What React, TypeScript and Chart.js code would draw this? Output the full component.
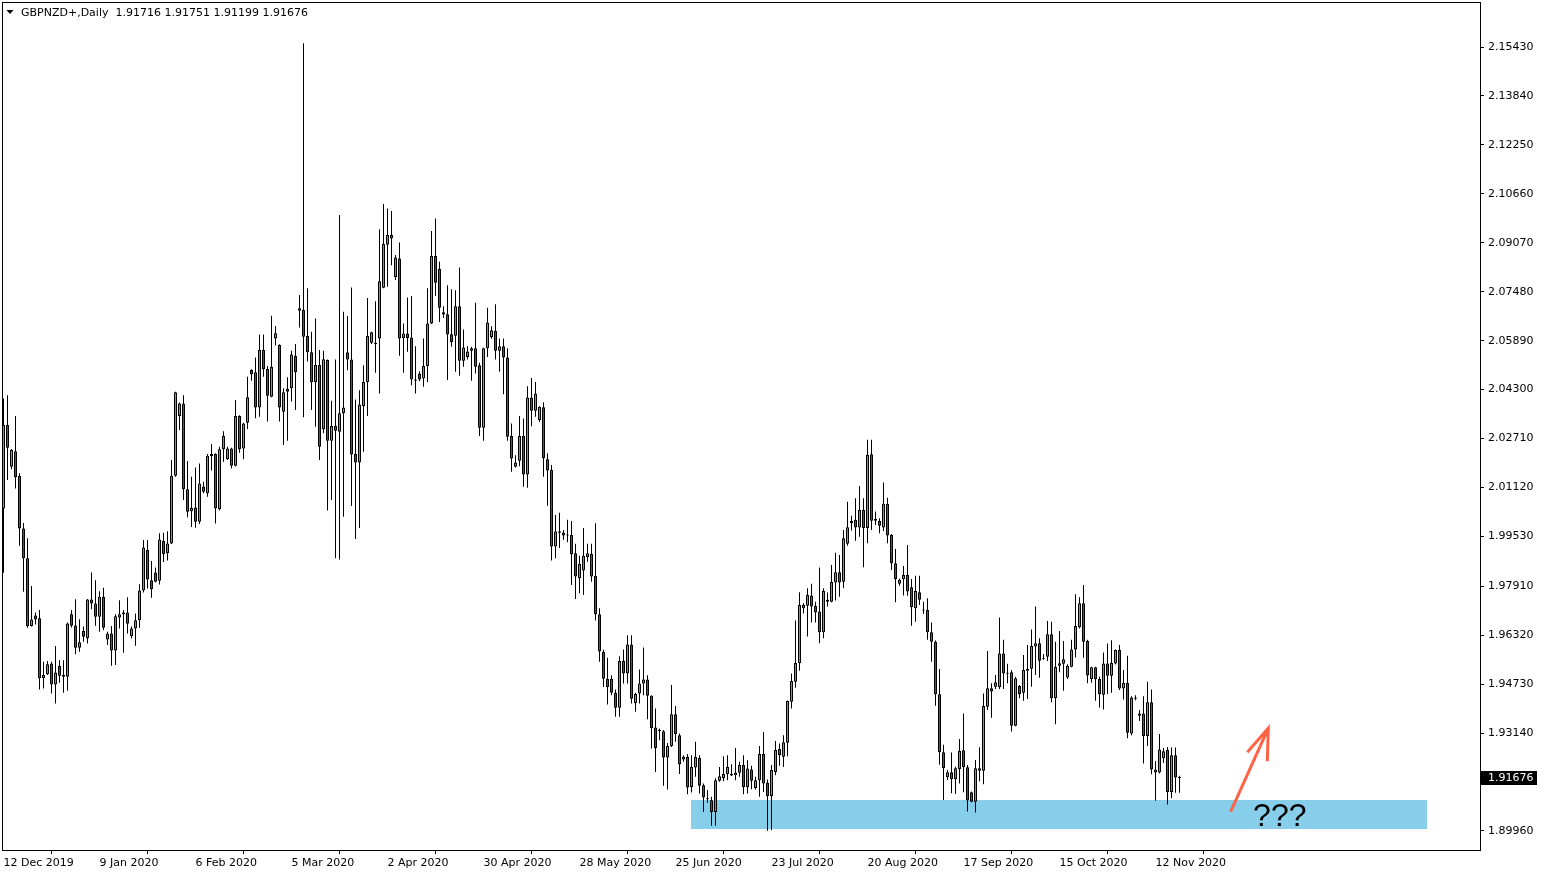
import React, { useEffect, useRef } from 'react';
import { Chart, registerables } from 'chart.js';

Chart.register(...registerables);

const symbolTitle = 'GBPNZD+,Daily';

const dateLabels = [
  '12 Dec 2019', '9 Jan 2020', '6 Feb 2020', '5 Mar 2020', '2 Apr 2020', '30 Apr 2020',
  '28 May 2020', '25 Jun 2020', '23 Jul 2020', '20 Aug 2020', '17 Sep 2020', '15 Oct 2020', '12 Nov 2020',
];
const dateLabelBars = [0, 24, 48, 72, 96, 120, 144, 168, 192, 216, 240, 264, 288];

const priceTicks = [
  2.1543, 2.1384, 2.1225, 2.1066, 2.0907, 2.0748, 2.0589, 2.043, 2.0271, 2.0112,
  1.9953, 1.9791, 1.9632, 1.9473, 1.9314, 1.9155, 1.8996,
];

const opens = [
  2.0044, 2.0315, 2.0179, 2.0230, 2.0149, 1.9979, 1.9882, 1.9662, 1.9696, 1.9687,
  1.9492, 1.9505, 1.9540, 1.9472, 1.9532, 1.9503, 1.9497, 1.9700, 1.9664, 1.9591,
  1.9646, 1.9622, 1.9748, 1.9735, 1.9692, 1.9757, 1.9618, 1.9638, 1.9582, 1.9690,
  1.9700, 1.9706, 1.9629, 1.9654, 1.9681, 1.9777, 1.9909, 1.9811, 1.9836, 1.9809,
  1.9938, 1.9898, 1.9930, 2.0150, 2.0344, 2.0385, 2.0106, 2.0035, 2.0047, 2.0001,
  2.0115, 2.0093, 2.0214, 2.0221, 2.0041, 2.0236, 2.0204, 2.0239, 2.0183, 2.0344,
  2.0239, 2.0322, 2.0494, 2.0486, 2.0372, 2.0559, 2.0497, 2.0407, 2.0596, 2.0575,
  2.0358, 2.0432, 2.0434, 2.0539, 2.0694, 2.0689, 2.0604, 2.0551, 2.0454, 2.0510,
  2.0301, 2.0526, 2.0264, 2.0312, 2.0293, 2.0353, 2.0551, 2.0528, 2.0222, 2.0193,
  2.0377, 2.0455, 2.0582, 2.0582, 2.0596, 2.0761, 2.0901, 2.0932, 2.0796, 2.0856,
  2.0598, 2.0612, 2.0599, 2.0463, 2.0482, 2.0466, 2.0507, 2.0645, 2.0864, 2.0823,
  2.0681, 2.0675, 2.0610, 2.0605, 2.0701, 2.0524, 2.0536, 2.0556, 2.0564, 2.0509,
  2.0306, 2.0564, 2.0601, 2.0620, 2.0556, 2.0571, 2.0534, 2.0279, 2.0179, 2.0199,
  2.0279, 2.0154, 2.0404, 2.0361, 2.0331, 2.0373, 2.0204, 2.0169, 1.9920, 1.9965,
  1.9966, 1.9958, 1.9958, 1.9898, 1.9817, 1.9842, 1.9885, 1.9896, 1.9825, 1.9700,
  1.9578, 1.9491, 1.9491, 1.9445, 1.9396, 1.9548, 1.9508, 1.9602, 1.9412, 1.9443,
  1.9475, 1.9488, 1.9435, 1.9332, 1.9324, 1.9320, 1.9235, 1.9272, 1.9375, 1.9307,
  1.9228, 1.9237, 1.9139, 1.9202, 1.9233, 1.9145, 1.9102, 1.9096, 1.9058, 1.9159,
  1.9167, 1.9181, 1.9181, 1.9177, 1.9185, 1.9210, 1.9139, 1.9196, 1.9136, 1.9161,
  1.9246, 1.9153, 1.9110, 1.9188, 1.9262, 1.9237, 1.9283, 1.9416, 1.9481, 1.9541,
  1.9720, 1.9728, 1.9761, 1.9727, 1.9709, 1.9642, 1.9741, 1.9741, 1.9803, 1.9837,
  1.9806, 1.9929, 1.9996, 2.0007, 1.9982, 2.0039, 1.9980, 2.0220, 2.0004, 2.0003,
  1.9982, 2.0059, 1.9958, 1.9866, 1.9799, 1.9814, 1.9828, 1.9788, 1.9720, 1.9772,
  1.9714, 1.9714, 1.9642, 1.9611, 1.9440, 1.9252, 1.9171, 1.9187, 1.9164, 1.9197,
  1.9258, 1.9203, 1.9122, 1.9091, 1.9192, 1.9192, 1.9400, 1.9460, 1.9465, 1.9463,
  1.9573, 1.9510, 1.9512, 1.9338, 1.9467, 1.9445, 1.9517, 1.9523, 1.9595, 1.9606,
  1.9557, 1.9562, 1.9635, 1.9427, 1.9533, 1.9539, 1.9495, 1.9530, 1.9586, 1.9658,
  1.9736, 1.9613, 1.9490, 1.9528, 1.9490, 1.9439, 1.9540, 1.9500, 1.9540, 1.9584,
  1.9459, 1.9477, 1.9313, 1.9426, 1.9370, 1.9378, 1.9305, 1.9414, 1.9196, 1.9186,
  1.9232, 1.9259, 1.9123, 1.9242, 1.91716,
];

const highs = [
  2.0401, 2.0412, 2.0237, 2.0344, 2.0158, 1.9997, 1.9947, 1.9792, 1.9706, 1.9714,
  1.9546, 1.9548, 1.9546, 1.9597, 1.9551, 1.9551, 1.9673, 1.9714, 1.9749, 1.9684,
  1.9660, 1.9750, 1.9836, 1.9811, 1.9775, 1.9786, 1.9643, 1.9662, 1.9700, 1.9746,
  1.9714, 1.9755, 1.9660, 1.9703, 1.9798, 1.9941, 1.9941, 1.9873, 1.9852, 1.9963,
  1.9965, 1.9970, 2.0201, 2.0423, 2.0388, 2.0412, 2.0198, 2.0147, 2.0177, 2.0190,
  2.0131, 2.0221, 2.0253, 2.0223, 2.0244, 2.0295, 2.0244, 2.0241, 2.0396, 2.0347,
  2.0322, 2.0472, 2.0496, 2.0534, 2.0609, 2.0609, 2.0507, 2.0670, 2.0637, 2.0577,
  2.0434, 2.0470, 2.0556, 2.0578, 2.0737, 2.1555, 2.0759, 2.0618, 2.0661, 2.0559,
  2.0556, 2.0528, 2.0394, 2.0528, 2.0997, 2.0683, 2.0669, 2.0762, 2.0398, 2.0428,
  2.0509, 2.0728, 2.0618, 2.0717, 2.0951, 2.1033, 2.1018, 2.1010, 2.0867, 2.0908,
  2.0645, 2.0729, 2.0734, 2.0571, 2.0490, 2.0596, 2.0759, 2.0945, 2.0986, 2.0845,
  2.0701, 2.0769, 2.0756, 2.0753, 2.0827, 2.0625, 2.0571, 2.0569, 2.0712, 2.0517,
  2.0566, 2.0696, 2.0636, 2.0707, 2.0596, 2.0596, 2.0564, 2.0320, 2.0217, 2.0344,
  2.0336, 2.0441, 2.0468, 2.0455, 2.0376, 2.0389, 2.0223, 2.0185, 2.0023, 2.0030,
  1.9974, 2.0007, 2.0003, 1.9929, 1.9890, 1.9980, 1.9929, 1.9929, 1.9996, 1.9720,
  1.9585, 1.9559, 1.9502, 1.9456, 1.9564, 1.9586, 1.9632, 1.9632, 1.9445, 1.9521,
  1.9592, 1.9502, 1.9437, 1.9394, 1.9329, 1.9324, 1.9282, 1.9470, 1.9402, 1.9313,
  1.9242, 1.9246, 1.9242, 1.9286, 1.9242, 1.9150, 1.9129, 1.9107, 1.9167, 1.9204,
  1.9239, 1.9242, 1.9213, 1.9266, 1.9221, 1.9242, 1.9226, 1.9208, 1.9172, 1.9272,
  1.9318, 1.9163, 1.9210, 1.9288, 1.9280, 1.9307, 1.9420, 1.9508, 1.9680, 1.9772,
  1.9736, 1.9785, 1.9799, 1.9741, 1.9852, 1.9785, 1.9771, 1.9860, 1.9900, 1.9893,
  1.9974, 2.0066, 2.0020, 2.0077, 2.0117, 2.0077, 2.0267, 2.0267, 2.0034, 2.0012,
  2.0128, 2.0079, 1.9961, 1.9912, 1.9816, 1.9857, 1.9925, 1.9815, 1.9825, 1.9825,
  1.9741, 1.9752, 1.9673, 1.9615, 1.9522, 1.9276, 1.9194, 1.9251, 1.9205, 1.9295,
  1.9378, 1.9210, 1.9124, 1.9227, 1.9268, 1.9443, 1.9581, 1.9476, 1.9503, 1.9690,
  1.9617, 1.9539, 1.9519, 1.9497, 1.9470, 1.9568, 1.9600, 1.9651, 1.9725, 1.9622,
  1.9571, 1.9678, 1.9676, 1.9611, 1.9646, 1.9613, 1.9538, 1.9617, 1.9765, 1.9755,
  1.9795, 1.9617, 1.9530, 1.9530, 1.9497, 1.9576, 1.9605, 1.9616, 1.9586, 1.9600,
  1.9519, 1.9565, 1.9434, 1.9437, 1.9389, 1.9434, 1.9481, 1.9456, 1.9223, 1.9311,
  1.9266, 1.9269, 1.9267, 1.9267, 1.91751,
];

const lows = [
  1.9835, 2.0136, 2.0171, 2.0109, 1.9923, 1.9773, 1.9656, 1.9660, 1.9667, 1.9456,
  1.9459, 1.9503, 1.9443, 1.9410, 1.9478, 1.9445, 1.9452, 1.9657, 1.9570, 1.9578,
  1.9611, 1.9605, 1.9716, 1.9663, 1.9643, 1.9649, 1.9600, 1.9533, 1.9535, 1.9654,
  1.9575, 1.9638, 1.9621, 1.9598, 1.9656, 1.9771, 1.9784, 1.9754, 1.9804, 1.9797,
  1.9870, 1.9875, 1.9928, 2.0147, 2.0299, 2.0071, 2.0015, 1.9984, 1.9981, 1.9993,
  2.0093, 2.0082, 2.0167, 1.9995, 2.0037, 2.0196, 2.0201, 2.0174, 2.0180, 2.0225,
  2.0204, 2.0302, 2.0459, 2.0337, 2.0342, 2.0472, 2.0326, 2.0405, 2.0573, 2.0326,
  2.0250, 2.0264, 2.0391, 2.0364, 2.0632, 2.0340, 2.0521, 2.0364, 2.0309, 2.0201,
  2.0288, 2.0037, 2.0071, 1.9882, 1.9878, 2.0017, 2.0493, 2.0052, 1.9945, 1.9980,
  2.0228, 2.0344, 2.0578, 2.0485, 2.0417, 2.0759, 2.0764, 2.0834, 2.0786, 2.0540,
  2.0485, 2.0553, 2.0444, 2.0417, 2.0457, 2.0439, 2.0455, 2.0643, 2.0734, 2.0650,
  2.0663, 2.0461, 2.0569, 2.0488, 2.0475, 2.0504, 2.0528, 2.0459, 2.0482, 2.0279,
  2.0264, 2.0536, 2.0595, 2.0528, 2.0488, 2.0415, 2.0264, 2.0163, 2.0177, 2.0181,
  2.0114, 2.0111, 2.0311, 2.0342, 2.0325, 2.0147, 2.0053, 1.9875, 1.9882, 1.9915,
  1.9942, 1.9934, 1.9795, 1.9750, 1.9768, 1.9763, 1.9871, 1.9806, 1.9680, 1.9546,
  1.9464, 1.9407, 1.9437, 1.9367, 1.9367, 1.9475, 1.9475, 1.9410, 1.9383, 1.9410,
  1.9437, 1.9359, 1.9264, 1.9188, 1.9291, 1.9143, 1.9131, 1.9269, 1.9286, 1.9181,
  1.9221, 1.9115, 1.9121, 1.9172, 1.9118, 1.9058, 1.9088, 1.9013, 1.9013, 1.9156,
  1.9158, 1.9161, 1.9175, 1.9161, 1.9172, 1.9115, 1.9118, 1.9132, 1.9131, 1.9107,
  1.9123, 1.8997, 1.8999, 1.9177, 1.9208, 1.9204, 1.9239, 1.9394, 1.9461, 1.9517,
  1.9703, 1.9628, 1.9673, 1.9673, 1.9606, 1.9622, 1.9725, 1.9739, 1.9745, 1.9757,
  1.9785, 1.9923, 1.9972, 1.9939, 1.9952, 1.9853, 1.9931, 1.9974, 1.9990, 1.9963,
  1.9971, 1.9931, 1.9844, 1.9739, 1.9793, 1.9761, 1.9760, 1.9663, 1.9676, 1.9730,
  1.9701, 1.9617, 1.9546, 1.9403, 1.9211, 1.9097, 1.9162, 1.9119, 1.9116, 1.9150,
  1.9122, 1.9059, 1.9089, 1.9056, 1.9158, 1.9148, 1.9389, 1.9364, 1.9457, 1.9457,
  1.9457, 1.9476, 1.9319, 1.9336, 1.9427, 1.9419, 1.9425, 1.9465, 1.9503, 1.9494,
  1.9552, 1.9548, 1.9414, 1.9343, 1.9512, 1.9452, 1.9490, 1.9528, 1.9560, 1.9654,
  1.9559, 1.9476, 1.9478, 1.9419, 1.9397, 1.9391, 1.9441, 1.9445, 1.9537, 1.9454,
  1.9423, 1.9297, 1.9307, 1.9421, 1.9353, 1.9215, 1.9272, 1.9180, 1.9094, 1.9183,
  1.9217, 1.9082, 1.9102, 1.9120, 1.91199,
];

const closes = [
  2.0315, 2.0241, 2.0234, 2.0145, 1.9979, 1.9882, 1.9662, 1.9683, 1.9683, 1.9492,
  1.9503, 1.9538, 1.9472, 1.9511, 1.9500, 1.9497, 1.9670, 1.9663, 1.9591, 1.9609,
  1.9627, 1.9748, 1.9735, 1.9692, 1.9757, 1.9656, 1.9638, 1.9582, 1.9694, 1.9700,
  1.9706, 1.9669, 1.9654, 1.9681, 1.9777, 1.9917, 1.9813, 1.9781, 1.9806, 1.9943,
  1.9895, 1.9930, 2.0150, 2.0421, 2.0385, 2.0106, 2.0033, 2.0045, 2.0001, 2.0125,
  2.0098, 2.0215, 2.0221, 2.0044, 2.0236, 2.0279, 2.0239, 2.0183, 2.0344, 2.0236,
  2.0320, 2.0405, 2.0480, 2.0372, 2.0559, 2.0496, 2.0410, 2.0504, 2.0613, 2.0372,
  2.0421, 2.0423, 2.0544, 2.0486, 2.0686, 2.0602, 2.0551, 2.0454, 2.0510, 2.0244,
  2.0529, 2.0264, 2.0312, 2.0296, 2.0353, 2.0372, 2.0528, 2.0219, 2.0193, 2.0382,
  2.0455, 2.0604, 2.0616, 2.0577, 2.0782, 2.0903, 2.0932, 2.0921, 2.0859, 2.0596,
  2.0612, 2.0598, 2.0463, 2.0459, 2.0463, 2.0507, 2.0645, 2.0864, 2.0777, 2.0696,
  2.0674, 2.0609, 2.0585, 2.0701, 2.0524, 2.0567, 2.0554, 2.0564, 2.0504, 2.0306,
  2.0564, 2.0648, 2.0623, 2.0556, 2.0571, 2.0534, 2.0277, 2.0206, 2.0193, 2.0279,
  2.0154, 2.0404, 2.0361, 2.0417, 2.0374, 2.0207, 2.0167, 1.9920, 1.9969, 1.9970,
  1.9956, 1.9956, 1.9895, 1.9823, 1.9864, 1.9890, 1.9898, 1.9823, 1.9700, 1.9579,
  1.9491, 1.9464, 1.9445, 1.9396, 1.9548, 1.9508, 1.9602, 1.9426, 1.9441, 1.9475,
  1.9488, 1.9435, 1.9331, 1.9266, 1.9320, 1.9235, 1.9272, 1.9375, 1.9310, 1.9212,
  1.9237, 1.9137, 1.9204, 1.9237, 1.9143, 1.9105, 1.9099, 1.9058, 1.9161, 1.9174,
  1.9181, 1.9204, 1.9176, 1.9186, 1.9210, 1.9139, 1.9199, 1.9159, 1.9161, 1.9246,
  1.9150, 1.9110, 1.9194, 1.9259, 1.9242, 1.9284, 1.9418, 1.9483, 1.9542, 1.9730,
  1.9730, 1.9763, 1.9725, 1.9706, 1.9642, 1.9776, 1.9747, 1.9805, 1.9837, 1.9803,
  1.9947, 1.9983, 2.0003, 1.9982, 2.0039, 1.9980, 2.0218, 2.0004, 2.0010, 1.9988,
  2.0059, 1.9956, 1.9866, 1.9814, 1.9812, 1.9828, 1.9774, 1.9723, 1.9776, 1.9747,
  1.9712, 1.9642, 1.9611, 1.9440, 1.9252, 1.9200, 1.9187, 1.9164, 1.9200, 1.9257,
  1.9203, 1.9095, 1.9091, 1.9200, 1.9200, 1.9402, 1.9460, 1.9449, 1.9479, 1.9573,
  1.9508, 1.9507, 1.9338, 1.9492, 1.9441, 1.9519, 1.9523, 1.9597, 1.9606, 1.9549,
  1.9554, 1.9635, 1.9427, 1.9530, 1.9541, 1.9554, 1.9532, 1.9586, 1.9662, 1.9736,
  1.9611, 1.9501, 1.9528, 1.9489, 1.9440, 1.9540, 1.9500, 1.9542, 1.9584, 1.9459,
  1.9477, 1.9315, 1.9430, 1.9430, 1.9378, 1.9305, 1.9414, 1.9196, 1.9186, 1.9261,
  1.9255, 1.9123, 1.9242, 1.9170, 1.91676,
];

// Support zone (bar index range and price range), arrow and annotation
const zoneFromBar = 171.9;
const zoneToBar = 355.9;
const zoneHigh = 1.9097;
const zoneLow = 1.9002;
const arrowFrom = { bar: 306.8, price: 1.9059 };
const arrowTo = { bar: 316.2, price: 1.9330 };
const questionText = '???';
const questionAt = { bar: 312.4, price: 1.9012 };

const BULL = '#20D820';
const BEAR = '#D82020';
const FONT = "'DejaVu Sans', sans-serif";

export default function App() {
  const canvasRef = useRef<HTMLCanvasElement | null>(null);

  useEffect(() => {
    document.body.style.margin = '0';
    document.body.style.overflow = 'hidden';
    const canvas = canvasRef.current;
    if (!canvas) return;

    const n = closes.length;
    const bodies = opens.map((o, i) => ({ x: i, y: [Math.min(o, closes[i]), Math.max(o, closes[i])] }));
    const wicks = lows.map((l, i) => ({ x: i, y: [l, highs[i]] }));
    const bodyColors = opens.map((o, i) => (closes[i] >= o ? BULL : BEAR));

    const overlay = {
      id: 'mt4overlay',
      beforeDatasetsDraw(chart: any) {
        const { ctx, scales } = chart;
        const x = scales.x, y = scales.y;
        const x0 = x.getPixelForValue(zoneFromBar);
        const x1 = x.getPixelForValue(zoneToBar);
        const y0 = y.getPixelForValue(zoneHigh);
        const y1 = y.getPixelForValue(zoneLow);
        ctx.save();
        ctx.fillStyle = '#87CEEB';
        ctx.fillRect(Math.round(x0), Math.round(y0), Math.round(x1 - x0), Math.round(y1 - y0));
        ctx.restore();
      },
      afterDatasetsDraw(chart: any) {
        const { ctx, scales, chartArea } = chart;
        const x = scales.x, y = scales.y;
        const ax0 = x.getPixelForValue(arrowFrom.bar);
        const ay0 = y.getPixelForValue(arrowFrom.price);
        const ax1 = x.getPixelForValue(arrowTo.bar);
        const ay1 = y.getPixelForValue(arrowTo.price);
        ctx.save();
        ctx.strokeStyle = '#FF6347';
        ctx.lineWidth = 3;
        ctx.lineCap = 'butt';
        ctx.beginPath();
        ctx.moveTo(ax0, ay0);
        ctx.lineTo(ax1, ay1);
        ctx.moveTo(ax1 - 21, ay1 + 24);
        ctx.lineTo(ax1, ay1);
        ctx.lineTo(ax1 - 1, ay1 + 33);
        ctx.stroke();
        ctx.fillStyle = '#000';
        ctx.font = "32px 'Liberation Sans', Arial, sans-serif";
        ctx.textAlign = 'left';
        ctx.textBaseline = 'alphabetic';
        ctx.fillText(questionText, x.getPixelForValue(questionAt.bar), y.getPixelForValue(questionAt.price));
        ctx.restore();

        ctx.save();
        ctx.strokeStyle = '#000';
        ctx.lineWidth = 1;
        ctx.strokeRect(chartArea.left - 0.5, chartArea.top - 0.5, chartArea.right - chartArea.left + 1, chartArea.bottom - chartArea.top);
        ctx.restore();
      },
      afterDraw(chart: any) {
        const { ctx, scales, chartArea } = chart;
        const y = scales.y;
        ctx.save();
        ctx.fillStyle = '#000';
        ctx.beginPath();
        ctx.moveTo(6.5, 10);
        ctx.lineTo(13.5, 10);
        ctx.lineTo(10, 14);
        ctx.closePath();
        ctx.fill();
        ctx.font = `11px ${FONT}`;
        ctx.textBaseline = 'middle';
        ctx.textAlign = 'left';
        const last = n - 1;
        const hdr = `${symbolTitle}  ${opens[last].toFixed(5)} ${highs[last].toFixed(5)} ${lows[last].toFixed(5)} ${closes[last].toFixed(5)}`;
        ctx.fillText(hdr, 21, 13);
        const py = y.getPixelForValue(closes[last]);
        ctx.fillStyle = '#000';
        ctx.fillRect(chartArea.right + 1, Math.round(py) - 7, 56, 14);
        ctx.fillStyle = '#fff';
        ctx.fillText(closes[last].toFixed(5), chartArea.right + 8, Math.round(py) + 0.5);
        ctx.restore();
      },
    };

    const chart = new Chart(canvas, {
      type: 'bar',
      data: {
        datasets: [
          {
            label: 'body',
            data: bodies as any,
            backgroundColor: bodyColors,
            borderColor: '#000',
            borderWidth: 1,
            borderSkipped: false,
            barThickness: 3,
            minBarLength: 1,
            inflateAmount: 0,
            grouped: false,
            order: 0,
          } as any,
          {
            label: 'wick',
            data: wicks as any,
            backgroundColor: '#000',
            borderWidth: 0,
            barThickness: 1,
            inflateAmount: 0,
            grouped: false,
            order: 1,
          } as any,
        ],
      },
      options: {
        animation: false,
        responsive: true,
        maintainAspectRatio: false,
        events: [],
        layout: { padding: { left: 3, top: 3, right: 0, bottom: 0 } },
        plugins: { legend: { display: false }, tooltip: { enabled: false } },
        scales: {
          x: {
            type: 'linear',
            min: -0.125,
            max: 369.125,
            offset: false,
            border: { display: false },
            grid: { drawOnChartArea: false, drawTicks: true, tickLength: 3, color: '#000' },
            ticks: {
              autoSkip: false,
              maxRotation: 0,
              minRotation: 0,
              align: 'start',
              padding: 3,
              color: '#000',
              font: { family: FONT, size: 11 },
              callback: (v: any) => {
                const k = dateLabelBars.indexOf(Number(v));
                return k >= 0 ? dateLabels[k] : '';
              },
            },
            afterBuildTicks: (scale: any) => {
              scale.ticks = dateLabelBars.map((v) => ({ value: v }));
            },
            afterFit: (scale: any) => {
              scale.height = 23;
              scale.paddingLeft = 0;
              scale.paddingRight = 0;
            },
          },
          y: {
            type: 'linear',
            position: 'right',
            min: 1.8931,
            max: 2.1686,
            beginAtZero: false,
            border: { display: false },
            grid: { drawOnChartArea: false, drawTicks: true, tickLength: 4, color: '#000' },
            ticks: {
              padding: 4,
              color: '#000',
              font: { family: FONT, size: 11 },
              callback: (v: any) => Number(v).toFixed(5),
            },
            afterBuildTicks: (scale: any) => {
              scale.ticks = priceTicks.map((v) => ({ value: v }));
            },
            afterFit: (scale: any) => {
              scale.width = 64;
              scale.paddingTop = 0;
              scale.paddingBottom = 0;
            },
          },
        },
      } as any,
      plugins: [overlay],
    });

    return () => chart.destroy();
  }, []);

  return (
    <div style={{ position: 'absolute', left: 0, top: 0, width: 1544, height: 874, background: '#fff' }}>
      <canvas ref={canvasRef} />
    </div>
  );
}
